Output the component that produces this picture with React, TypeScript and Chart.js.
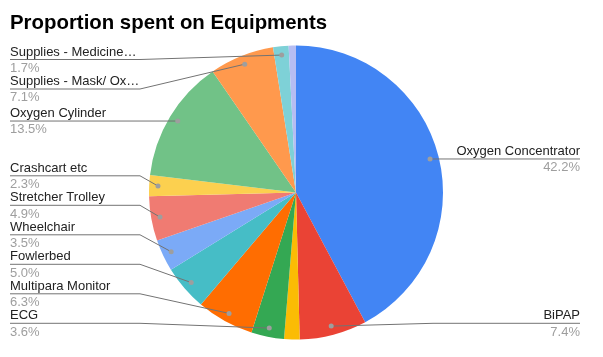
import React, { useEffect, useRef } from "react";
import { Chart, registerables } from "chart.js";

Chart.register(...registerables);

const TITLE = "Proportion spent on Equipments";
const categories = [
  "Oxygen Concentrator",
  "BiPAP",
  "",
  "ECG",
  "Multipara Monitor",
  "Fowlerbed",
  "Wheelchair",
  "Stretcher Trolley",
  "Crashcart etc",
  "Oxygen Cylinder",
  "Supplies - Mask/ Ox…",
  "Supplies - Medicine…",
  "",
];
const values = [42.2, 7.4, 1.7, 3.6, 6.3, 5.0, 3.5, 4.9, 2.3, 13.5, 7.1, 1.7, 0.8];
const colors = [
  "#4285F4",
  "#EA4335",
  "#FBBC04",
  "#34A853",
  "#FF6D01",
  "#46BDC6",
  "#7BAAF7",
  "#F07B72",
  "#FCD04F",
  "#71C287",
  "#FF994D",
  "#7ED1D7",
  "#B6BDF2",
];

const FONT = 'Arial, "Liberation Sans", sans-serif';

const labelPlugin = {
  id: "sideLabels",
  afterDraw(chart: any) {
    const ctx = chart.ctx as CanvasRenderingContext2D;
    const meta = chart.getDatasetMeta(0);
    const data = chart.data.datasets[0].data as number[];
    const total = data.reduce((a, b) => a + b, 0);
    const items: any[] = [];
    meta.data.forEach((arc: any, i: number) => {
      const name = chart.data.labels[i];
      if (!name) return;
      const p = arc.getProps(["x", "y", "startAngle", "endAngle", "outerRadius"], true);
      const mid = (p.startAngle + p.endAngle) / 2;
      const r = p.outerRadius * 0.94;
      const dx = p.x + Math.cos(mid) * r;
      const dy = p.y + Math.sin(mid) * r;
      items.push({
        name,
        pct: ((data[i] / total) * 100).toFixed(1) + "%",
        dx,
        dy,
        side: Math.cos(mid) >= 0 ? "right" : "left",
      });
    });

    const top = 59.5;
    const bottom = 323.3;
    const sp = 29.5;
    (["left", "right"] as const).forEach((side) => {
      const list = items.filter((it) => it.side === side).sort((a, b) => a.dy - b.dy);
      const ys = list.map((it) => Math.min(Math.max(it.dy, top), bottom));
      for (let i = ys.length - 2; i >= 0; i--) ys[i] = Math.min(ys[i], ys[i + 1] - sp);
      if (ys.length) ys[0] = Math.max(ys[0], top);
      for (let i = 1; i < ys.length; i++) ys[i] = Math.max(ys[i], ys[i - 1] + sp);
      list.forEach((it, i) => (it.uy = ys[i]));
    });

    ctx.save();
    items.forEach((it) => {
      ctx.strokeStyle = "#737373";
      ctx.lineWidth = 1;
      ctx.beginPath();
      if (it.side === "left") {
        const bend = Math.min(140, it.dx);
        ctx.moveTo(10, it.uy);
        ctx.lineTo(bend, it.uy);
        ctx.lineTo(it.dx, it.dy);
      } else {
        const bend = Math.max(433, it.dx);
        ctx.moveTo(580, it.uy);
        ctx.lineTo(bend, it.uy);
        ctx.lineTo(it.dx, it.dy);
      }
      ctx.stroke();

      ctx.fillStyle = "#9e9e9e";
      ctx.beginPath();
      ctx.arc(it.dx, it.dy, 2.5, 0, Math.PI * 2);
      ctx.fill();

      ctx.font = `13px ${FONT}`;
      ctx.textBaseline = "alphabetic";
      const x = it.side === "left" ? 10 : 580;
      ctx.textAlign = it.side === "left" ? "left" : "right";
      ctx.fillStyle = "#222222";
      ctx.fillText(it.name, x, it.uy - 4);
      ctx.fillStyle = "#9e9e9e";
      ctx.fillText(it.pct, x, it.uy + 12.3);
    });

    ctx.font = `bold 20.4px ${FONT}`;
    ctx.textAlign = "left";
    ctx.textBaseline = "alphabetic";
    ctx.fillStyle = "#000000";
    ctx.fillText(TITLE, 10, 28.5);
    ctx.restore();
  },
};

export default function App() {
  const ref = useRef<HTMLCanvasElement>(null);
  useEffect(() => {
    document.body.style.margin = "0";
    const chart = new Chart(ref.current!, {
      type: "pie",
      data: {
        labels: categories,
        datasets: [
          {
            data: values,
            backgroundColor: colors,
            borderWidth: 0,
            hoverOffset: 0,
          },
        ],
      },
      options: {
        responsive: false,
        animation: false,
        events: [],
        layout: { padding: { left: 149, right: 160, top: 45.5, bottom: 17.5 } },
        plugins: {
          legend: { display: false },
          tooltip: { enabled: false },
          title: { display: false },
        },
      },
      plugins: [labelPlugin],
    });
    return () => chart.destroy();
  }, []);
  return (
    <div style={{ width: 603, height: 357, background: "#fff" }}>
      <canvas ref={ref} width={603} height={357} />
    </div>
  );
}
